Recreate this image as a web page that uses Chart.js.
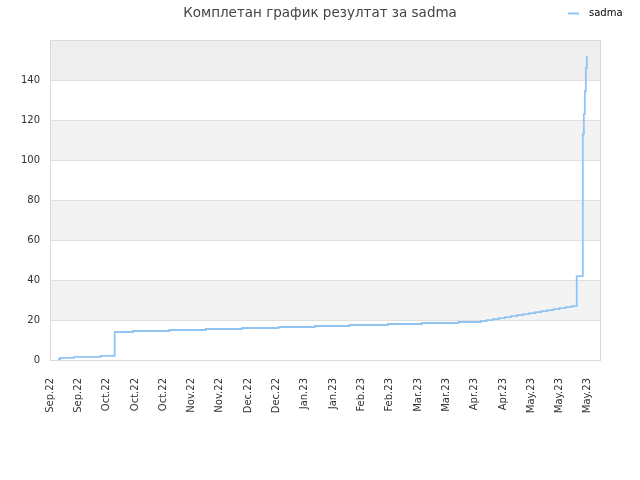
<!DOCTYPE html>
<html>
<head>
<meta charset="utf-8">
<title>sadma</title>
<script src="https://cdn.jsdelivr.net/npm/chart.js@4.4.1/dist/chart.umd.min.js"></script>
<style>
  html, body { margin: 0; padding: 0; background: #fff; }
  #wrap { width: 640px; height: 480px; }
</style>
</head>
<body>
<div id="wrap"><canvas id="chart" width="640" height="480"></canvas></div>
<script>
// values
const chartTitle = 'Комплетан график резултат за sadma';
const seriesName = 'sadma';
const tickLabels = ['Sep.22', 'Sep.22', 'Oct.22', 'Oct.22', 'Oct.22', 'Nov.22', 'Nov.22', 'Dec.22', 'Dec.22', 'Jan.23',
                    'Jan.23', 'Feb.23', 'Feb.23', 'Mar.23', 'Mar.23', 'Apr.23', 'Apr.23', 'May.23', 'May.23', 'May.23'];
const tickStepDays = 14;   // one label every two weeks, starting Sep 5
const axisEndDay = 272;
// days since Sep 5 2022 and score at that day
const dayOffsets = [4, 5, 12, 25, 32, 41, 59, 77, 95, 113, 131, 148, 167, 184, 202, 213, 216, 219, 222, 225,
                    228, 231, 234, 237, 240, 243, 246, 249, 252, 255, 258, 260.5, 263.5, 264, 264.5, 265, 265.5];
const scoreValues = [0.5, 1.1, 1.6, 2.1, 14.0, 14.5, 15.0, 15.5, 16.0, 16.5, 17.0, 17.5, 18.0, 18.5, 19.0, 19.5, 20.0, 20.5, 21.0, 21.5,
                     22.0, 22.5, 23.0, 23.5, 24.0, 24.5, 25.0, 25.5, 26.0, 26.5, 27.0, 42, 113, 123, 134.5, 146, 152];

const lineColor = 'rgb(146, 196, 242)';
const font = 'DejaVu Sans';

// alternating background bands + frame of the plot area
const bandsPlugin = {
    id: 'bands',
    beforeDraw(chart) {
        const { ctx, chartArea: a, scales: { y } } = chart;
        const ticks = y.ticks;
        ctx.save();
        for (let i = 0; i < ticks.length - 1; i++) {
            if (i % 2 === 0) continue;
            const top = y.getPixelForValue(ticks[i + 1].value);
            const bottom = y.getPixelForValue(ticks[i].value);
            ctx.fillStyle = i === ticks.length - 2 ? '#eeeeee' : '#f3f3f3';
            ctx.fillRect(a.left, top, a.right - a.left, bottom - top);
        }
        ctx.restore();
    },
    afterDatasetsDraw(chart) {
        const { ctx, chartArea: a } = chart;
        ctx.save();
        ctx.strokeStyle = '#dadada';
        ctx.lineWidth = 1;
        ctx.strokeRect(Math.round(a.left) + 0.5, Math.round(a.top) + 0.5,
                       Math.round(a.right - a.left), Math.round(a.bottom - a.top));
        ctx.restore();
    }
};

// small legend in the top right corner, on the title line
const cornerLegend = {
    id: 'cornerLegend',
    afterDraw(chart) {
        const ctx = chart.ctx;
        ctx.save();
        ctx.strokeStyle = lineColor;
        ctx.lineWidth = 2;
        ctx.beginPath();
        ctx.moveTo(568, 13.5);
        ctx.lineTo(579, 13.5);
        ctx.stroke();
        ctx.fillStyle = '#000';
        ctx.font = '10px "' + font + '"';
        ctx.textBaseline = 'middle';
        ctx.fillText(chart.data.datasets[0].label, 589, 13);
        ctx.restore();
    }
};

const ctx = document.getElementById('chart').getContext('2d');
new Chart(ctx, {
    type: 'line',
    data: {
        datasets: [{
            label: seriesName,
            data: dayOffsets.map((d, i) => ({ x: d, y: scoreValues[i] })),
            borderColor: lineColor,
            borderWidth: 1.8,
            stepped: true,
            pointRadius: 0,
            fill: false,
        }],
    },
    options: {
        responsive: false,
        animation: false,
        devicePixelRatio: 1,
        layout: { padding: 0 },
        plugins: {
            legend: { display: false },
            tooltip: { enabled: false },
            title: {
                display: true,
                text: chartTitle,
                color: '#444444',
                font: { family: font, size: 13.5, weight: 'normal' },
                padding: { top: 5, bottom: 19 },
            },
        },
        scales: {
            x: {
                type: 'linear',
                min: 0,
                max: axisEndDay,
                grid: { display: false },
                border: { display: false },
                ticks: {
                    stepSize: tickStepDays,
                    includeBounds: false,
                    autoSkip: false,
                    maxRotation: 90,
                    minRotation: 90,
                    padding: 10,
                    color: '#333333',
                    font: { family: font, size: 10 },
                    callback: (value) => tickLabels[Math.round(value / tickStepDays)],
                },
                afterFit: (scale) => { scale.height = 120; },
            },
            y: {
                min: 0,
                max: 160,
                grid: { color: '#e0e0e0', drawTicks: false },
                border: { display: false },
                ticks: {
                    stepSize: 20,
                    padding: 10,
                    color: '#333333',
                    font: { family: font, size: 10 },
                    callback: (value) => value === 160 ? '' : value,
                },
                afterFit: (scale) => { scale.width = 50; },
            },
            // empty right-hand margin so the title stays centred on the page
            yRight: {
                position: 'right',
                grid: { display: false },
                border: { display: false },
                ticks: { display: false },
                afterFit: (scale) => { scale.width = 40; },
            },
        },
    },
    plugins: [bandsPlugin, cornerLegend],
});
</script>
</body>
</html>
